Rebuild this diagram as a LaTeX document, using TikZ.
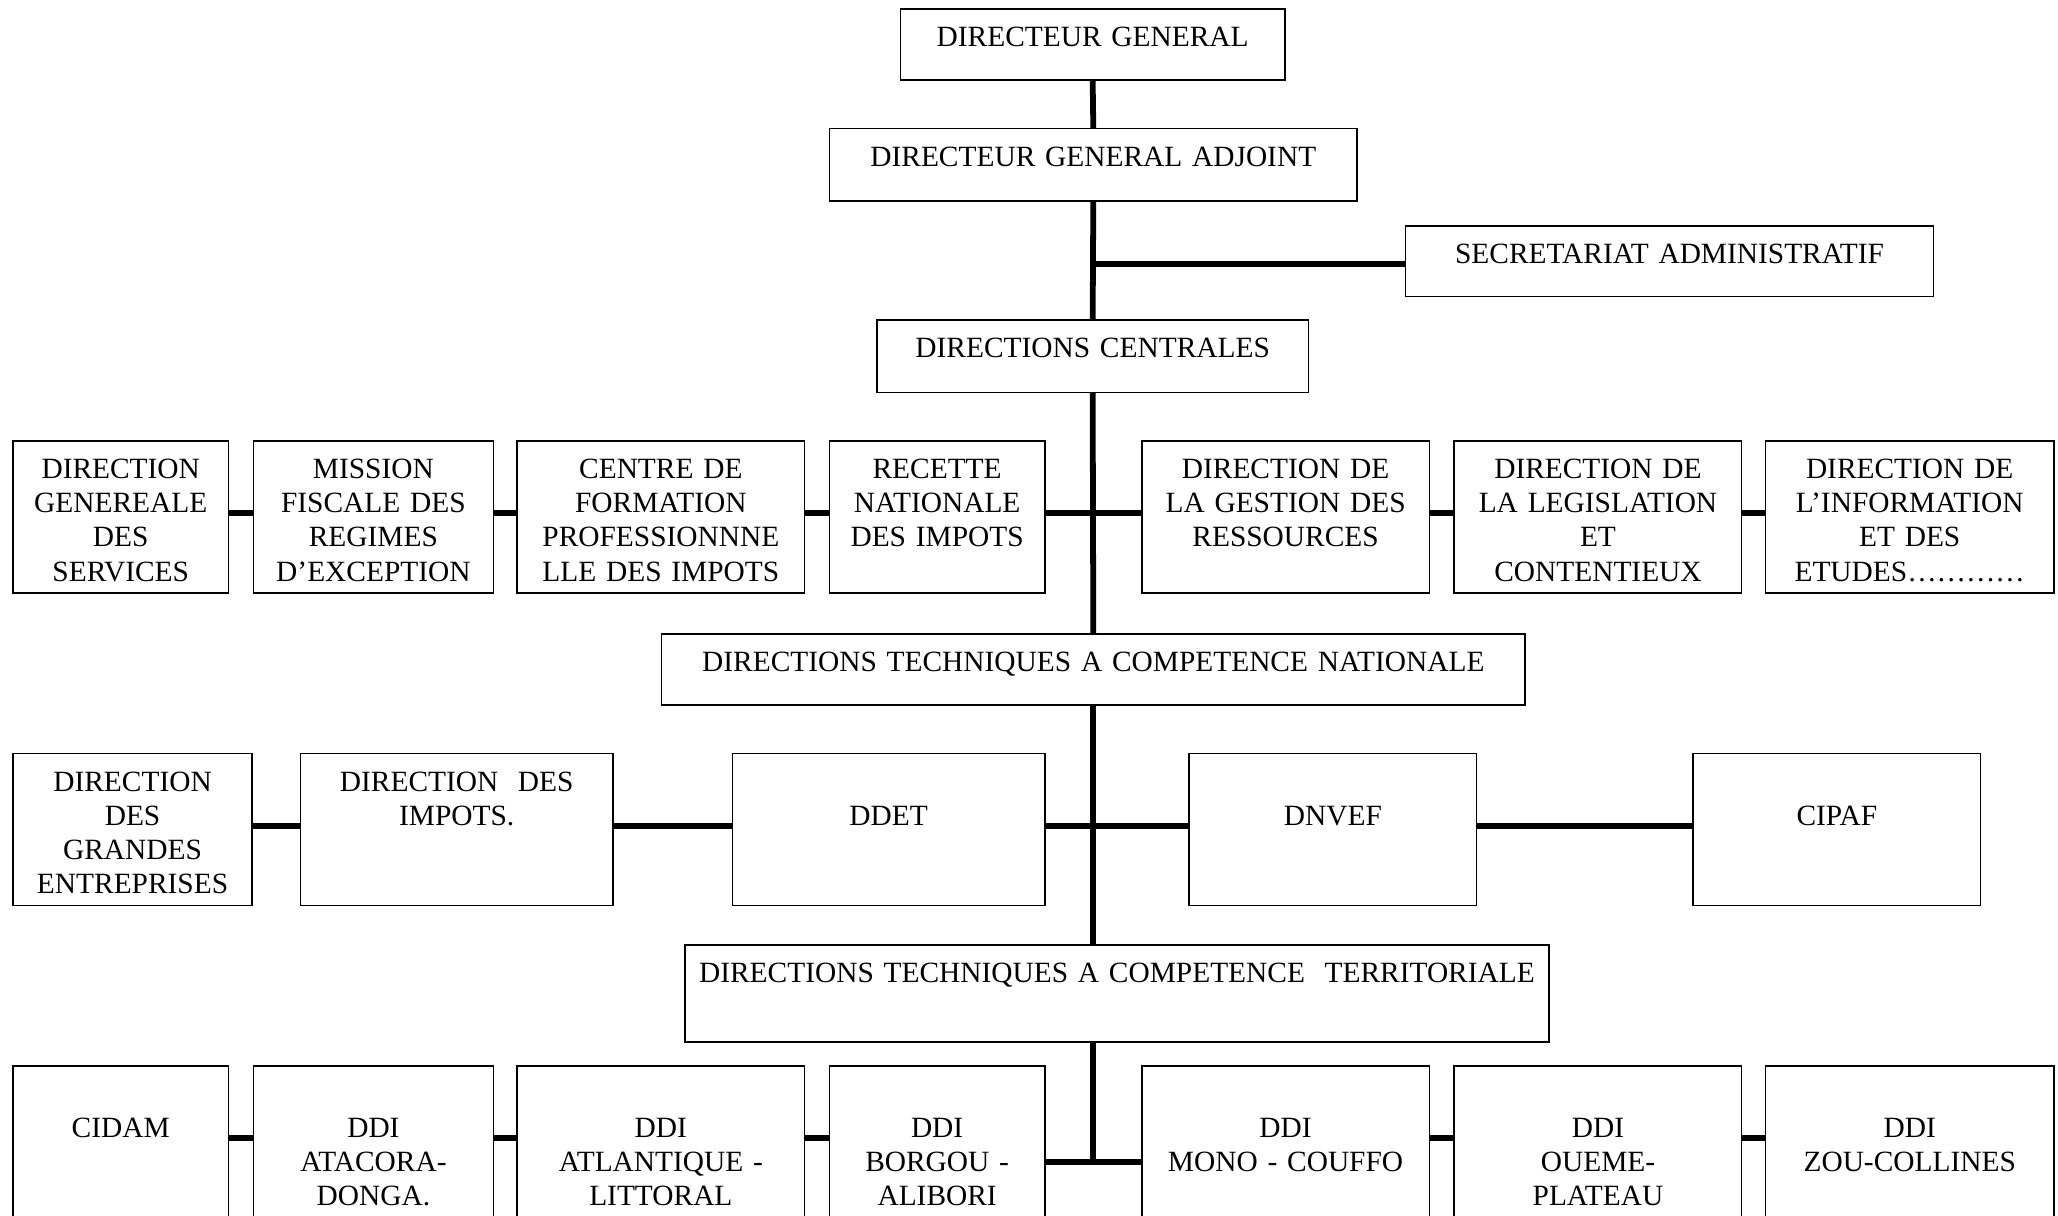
\documentclass[tikz,border=0pt]{standalone}
\usepackage{fontspec}
\setmainfont{Liberation Serif}

\begin{document}
\begin{tikzpicture}[x=1pt,y=-1pt,
    font=\fontsize{22.4}{26}\selectfont,
    box/.style 2 args={draw,line width=1.2pt,anchor=north west,inner sep=0pt,outer sep=0pt,
        align=center,text width=#1pt,text height=28.7pt,text depth=#2pt},
    spine/.style={line width=4.4pt},
    link/.style={line width=4.6pt}]
    \useasboundingbox (0,0) rectangle (1568,926);
    \clip (0,0) rectangle (1568,926);
    % direction
    \node[box={293}{25.3}] (dg) at (686,7) {DIRECTEUR GENERAL};
    \node[box={402}{26.3}] (dga) at (632,98) {DIRECTEUR GENERAL ADJOINT};
    \node[box={402}{25.3}] (sa) at (1071,172) {SECRETARIAT ADMINISTRATIF};
    \node[box={329}{26.3}] (dc) at (668,244) {DIRECTIONS CENTRALES};
    % directions centrales
    \node[box={164}{87.3}] (dgs) at (10,336) {DIRECTION\\GENEREALE\\DES\\SERVICES};
    \node[box={183}{87.3}] (mfre) at (193,336) {MISSION\\FISCALE DES\\REGIMES\\D’EXCEPTION};
    \node[box={219}{87.3}] (cfpi) at (394,336) {CENTRE DE\\FORMATION\\PROFESSIONNNE\\LLE DES IMPOTS};
    \node[box={164}{87.3}] (rni) at (632,336) {RECETTE\\NATIONALE\\DES IMPOTS};
    \node[box={219}{87.3}] (dgr) at (870,336) {DIRECTION DE\\LA GESTION DES\\RESSOURCES};
    \node[box={219}{87.3}] (dlc) at (1108,336) {DIRECTION DE\\LA LEGISLATION\\ET\\CONTENTIEUX};
    \node[box={220}{87.3}] (die) at (1345,336) {DIRECTION DE\\L’INFORMATION\\ET DES\\ETUDES…………};
    \node[box={658}{25.3}] (dtcn) at (504,483) {DIRECTIONS TECHNIQUES A COMPETENCE NATIONALE};
    % competence nationale
    \node[box={182}{87.3}] (dge) at (10,574) {DIRECTION\\DES\\GRANDES\\ENTREPRISES};
    \node[box={238}{87.3}] (dimp) at (229,574) {DIRECTION\ \ DES\\IMPOTS.};
    \node[box={238}{87.3}] (ddet) at (558,574) {\mbox{}\\DDET};
    \node[box={219}{87.3}] (dnvef) at (906,574) {\mbox{}\\DNVEF};
    \node[box={219}{87.3}] (cipaf) at (1290,574) {\mbox{}\\CIPAF};
    \node[box={658}{45.3}] (dtct) at (522,720) {DIRECTIONS TECHNIQUES A COMPETENCE\ \ TERRITORIALE};
    % competence territoriale
    \node[box={164}{121.3}] (cidam) at (10,812) {\mbox{}\\CIDAM};
    \node[box={183}{121.3}] (ata) at (193,812) {\mbox{}\\DDI\\ATACORA-\\DONGA.};
    \node[box={219}{121.3}] (atl) at (394,812) {\mbox{}\\DDI\\ATLANTIQUE -\\LITTORAL};
    \node[box={164}{121.3}] (bor) at (632,812) {\mbox{}\\DDI\\BORGOU -\\ALIBORI};
    \node[box={219}{121.3}] (mono) at (870,812) {\mbox{}\\DDI\\MONO - COUFFO};
    \node[box={219}{121.3}] (oue) at (1108,812) {\mbox{}\\DDI\\OUEME-\\PLATEAU};
    \node[box={220}{121.3}] (zou) at (1345,812) {\mbox{}\\DDI\\ZOU-COLLINES};
    % junctions on the spine
    \coordinate (j0) at (833,201);
    \coordinate (j1) at (833,391);
    \coordinate (j2) at (833,629);
    \coordinate (j3) at (833,885);
    \coordinate (k3) at (833,867);
    \draw[spine] (dg.south) -- (dga.north);
    \draw[spine] (dga.south) -- (dc.north);
    \draw[spine] (dc.south) -- (dtcn.north);
    \draw[spine] (dtcn.south) -- (dtcn.south |- dtct.north);
    \draw[spine] (dtcn.south |- dtct.south) -- (j3);
    \draw[link] (j0) -- (sa.west |- j0);
    \foreach \a/\b in {dgs/mfre,mfre/cfpi,cfpi/rni,rni/dgr,dgr/dlc,dlc/die}
        \draw[link] (\a.east |- j1) -- (\b.west |- j1);
    \foreach \a/\b in {dge/dimp,dimp/ddet,ddet/dnvef,dnvef/cipaf}
        \draw[link] (\a.east |- j2) -- (\b.west |- j2);
    \foreach \a/\b in {cidam/ata,ata/atl,atl/bor,mono/oue,oue/zou}
        \draw[link] (\a.east |- k3) -- (\b.west |- k3);
    \draw[link] (bor.east |- j3) -- (mono.west |- j3);
\end{tikzpicture}
\end{document}
